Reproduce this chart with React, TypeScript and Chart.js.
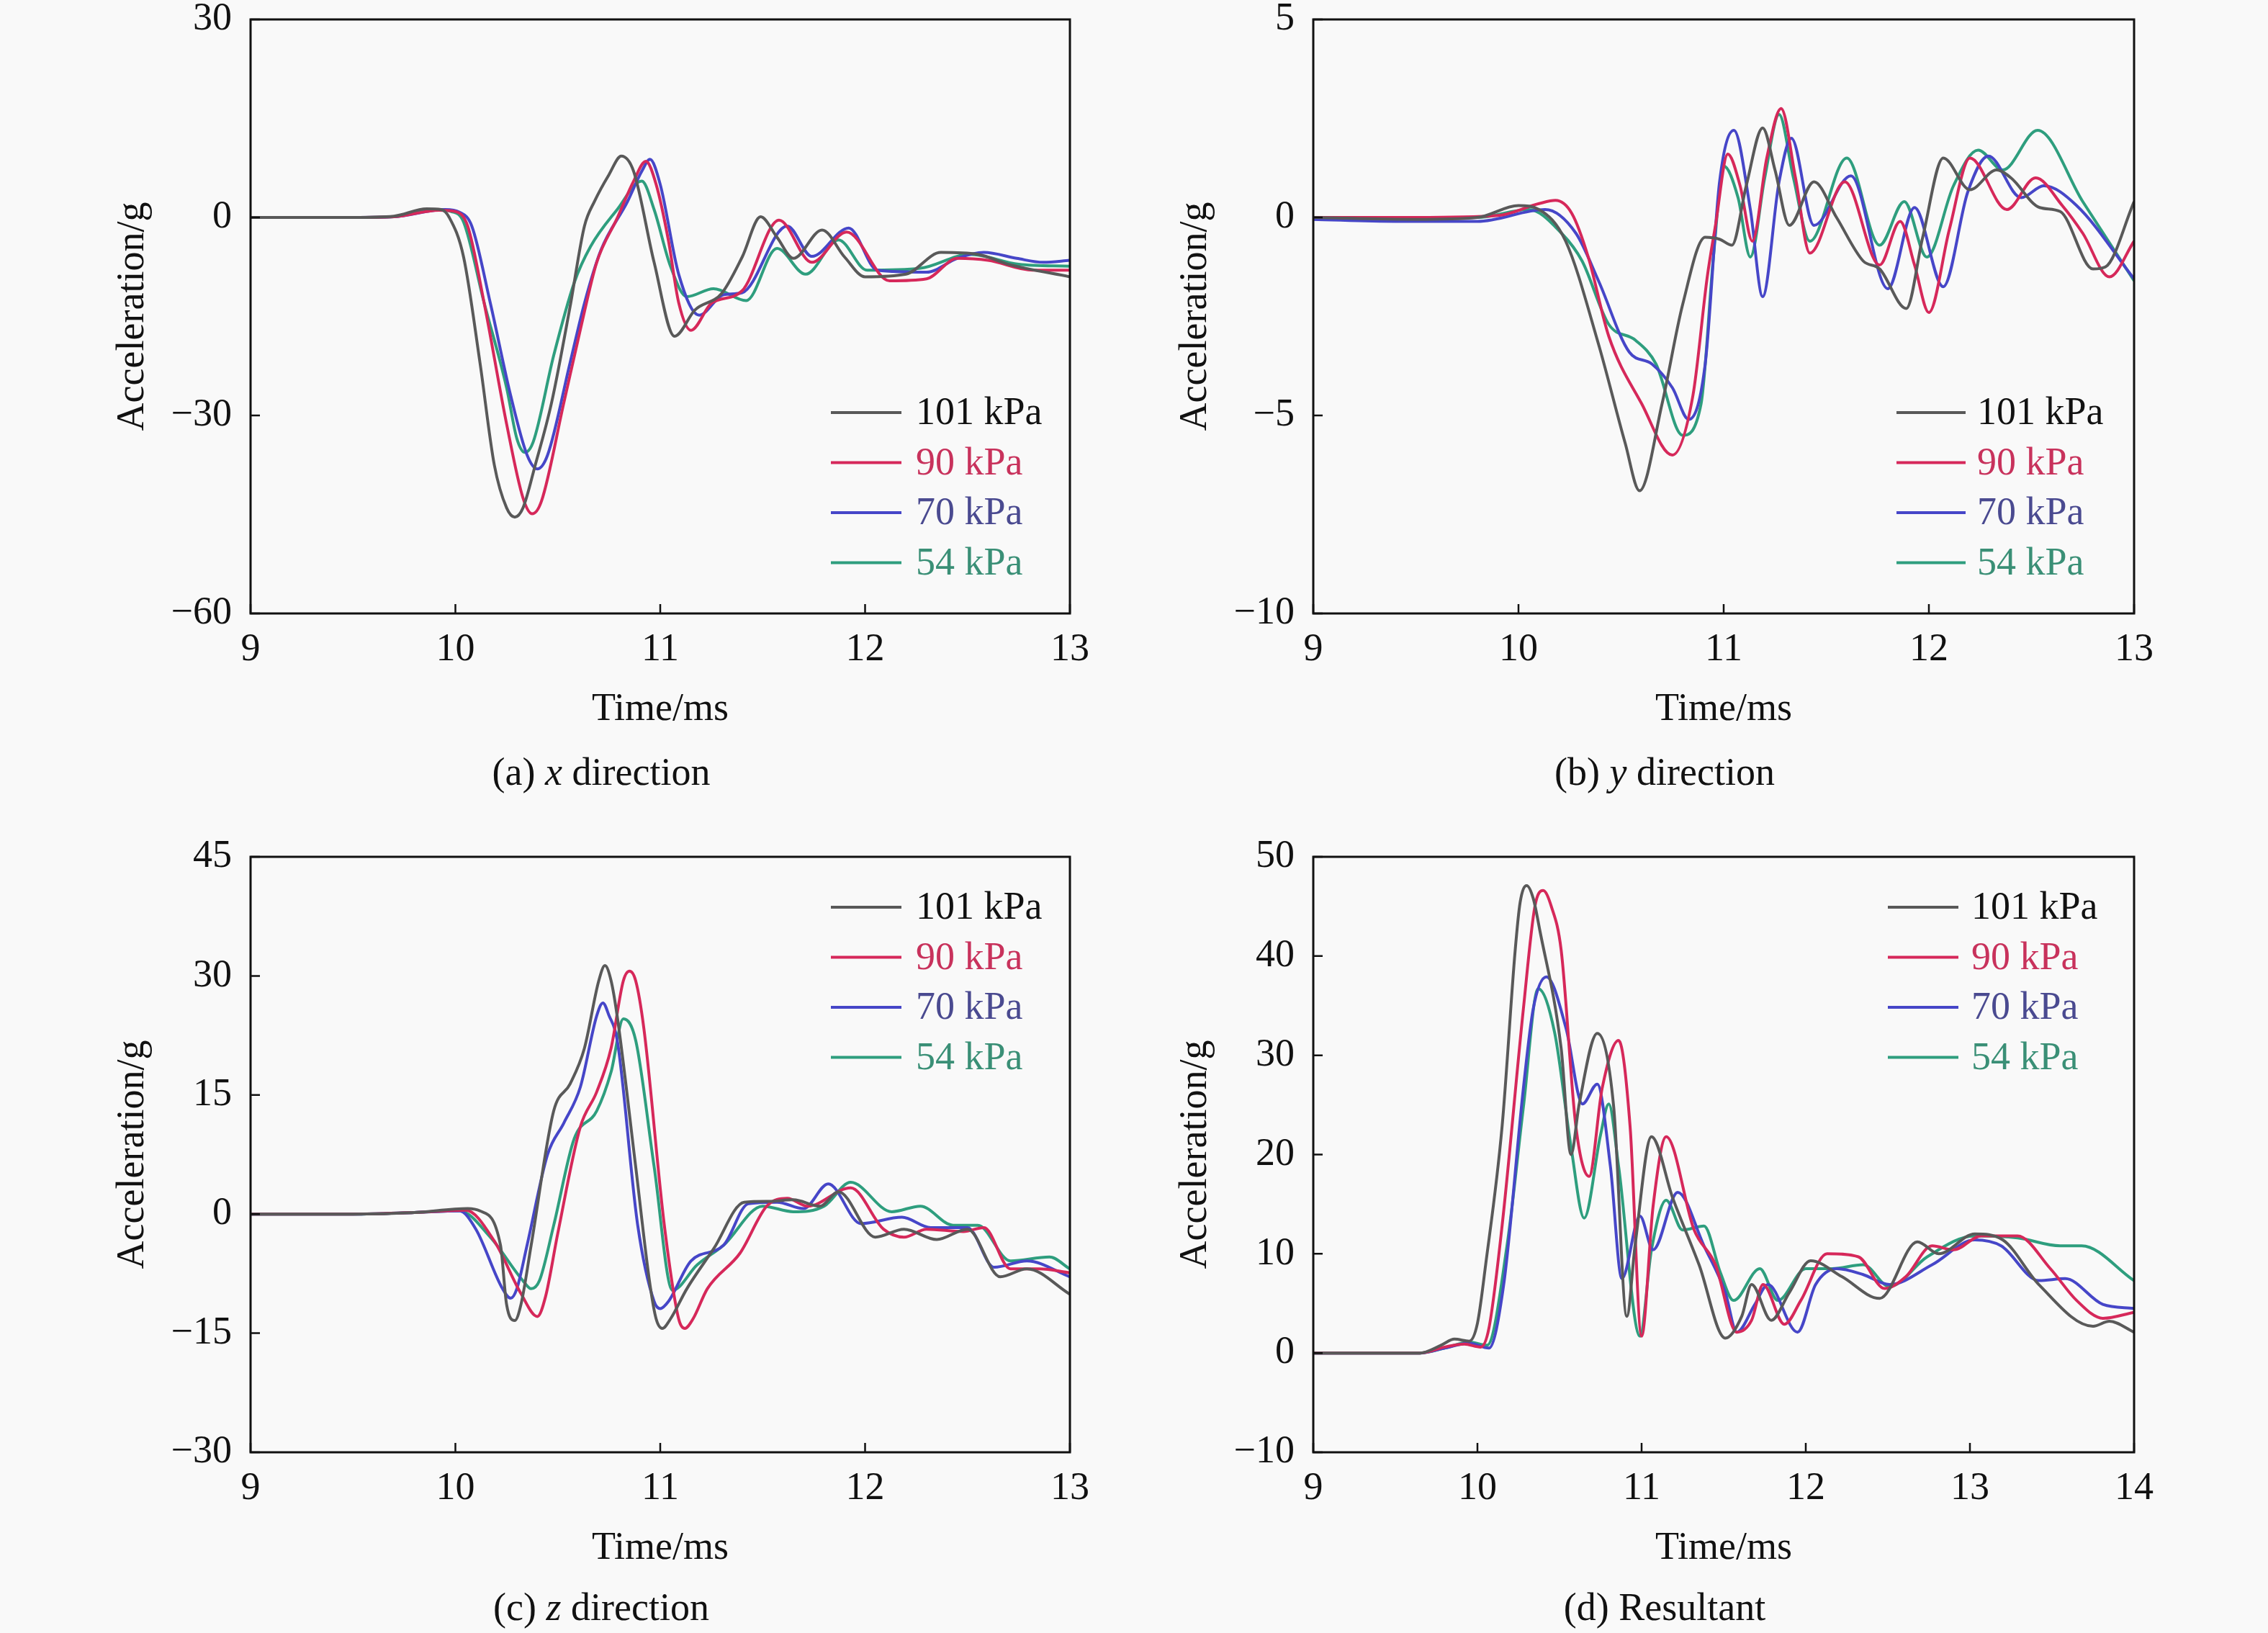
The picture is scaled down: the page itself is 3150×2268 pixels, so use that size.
import { useEffect, useRef, ReactNode } from 'react';
import { Chart, registerables } from 'chart.js';

Chart.register(...registerables);

const FONT = '"Liberation Serif", "Times New Roman", serif';
const FONT_SIZE = 54;

const pressures = ['101 kPa', '90 kPa', '70 kPa', '54 kPa'];
const lineColors = ['#595959', '#d6285a', '#4646c8', '#2e9e7e'];
const textColors = ['#111111', '#c8325c', '#4a4a90', '#3a8f76'];

// (a) x direction, [time ms, acceleration g]
const xDir101 = [[9, 0], [9.5, 0], [9.7, 0.2], [9.86, 1.3], [9.93, 1.2], [9.97, 0], [10.04, -6], [10.12, -22], [10.19, -37.5], [10.25, -44], [10.29, -45.4], [10.33, -44], [10.39, -37.5], [10.47, -28], [10.56, -13.5], [10.63, -1.3], [10.68, 2.5], [10.75, 6.5], [10.81, 9.3], [10.87, 7], [10.97, -6.8], [11.07, -18], [11.17, -14], [11.3, -11.5], [11.4, -6], [11.49, 0.1], [11.57, -3], [11.65, -6.2], [11.79, -1.9], [11.9, -6], [12.0, -9], [12.2, -8.6], [12.37, -5.3], [12.55, -5.6], [12.7, -7.1], [13, -9]];
const xDir90 = [[9, 0], [9.5, 0], [9.7, 0.1], [9.92, 1.1], [10.0, 0.9], [10.06, -1.3], [10.14, -12.9], [10.25, -31.3], [10.33, -42.5], [10.375, -44.9], [10.42, -43], [10.53, -28], [10.61, -17], [10.69, -6.8], [10.79, -0.1], [10.87, 5.5], [10.93, 8.5], [10.98, 5], [11.04, -3.5], [11.09, -12.9], [11.15, -17.1], [11.25, -13], [11.4, -11.1], [11.58, -0.4], [11.74, -6.8], [11.91, -2.2], [12.12, -9.6], [12.3, -9.3], [12.45, -6.2], [12.6, -6.5], [12.82, -8], [13, -8]];
const xDir70 = [[9, 0], [9.5, 0], [9.7, 0.1], [9.95, 1.2], [10.02, 0.8], [10.08, -1.3], [10.17, -12.9], [10.27, -27], [10.35, -36], [10.4, -38.1], [10.45, -36], [10.56, -22], [10.63, -13], [10.71, -5], [10.84, 2.4], [10.91, 7], [10.95, 8.8], [11.0, 5], [11.09, -8.6], [11.19, -14.8], [11.31, -11.7], [11.4, -11.4], [11.62, -1.3], [11.74, -5.9], [11.92, -1.6], [12.06, -8], [12.3, -8.3], [12.45, -6.2], [12.58, -5.3], [12.74, -6.2], [12.87, -6.8], [13, -6.5]];
const xDir54 = [[9, 0], [9.5, 0], [9.7, 0.1], [9.9, 1.2], [9.98, 0.9], [10.04, -0.7], [10.14, -12.9], [10.25, -25.8], [10.3, -33.5], [10.34, -35.6], [10.38, -34], [10.48, -20.9], [10.58, -9.9], [10.66, -4.4], [10.79, 1.2], [10.91, 5.5], [10.97, 1.2], [11.05, -7.4], [11.13, -12], [11.26, -10.8], [11.42, -12.6], [11.57, -4.7], [11.71, -8.6], [11.87, -3.4], [12.01, -8], [12.27, -7.7], [12.51, -5.6], [12.75, -7.1], [13, -7.4]];

// (b) y direction
const yDir101 = [[9, 0], [9.5, -0.05], [9.8, 0], [10.0, 0.3], [10.1, 0.2], [10.23, -0.6], [10.39, -3.2], [10.52, -5.7], [10.59, -6.9], [10.7, -4.7], [10.8, -2.2], [10.91, -0.5], [10.98, -0.55], [11.04, -0.7], [11.11, 0.8], [11.19, 2.26], [11.25, 1.2], [11.32, -0.2], [11.44, 0.9], [11.55, 0], [11.68, -1.1], [11.76, -1.3], [11.89, -2.3], [11.97, -0.5], [12.07, 1.5], [12.2, 0.7], [12.33, 1.2], [12.4, 1.0], [12.54, 0.25], [12.64, 0.15], [12.8, -1.3], [12.86, -1.25], [13, 0.4]];
const yDir90 = [[9, 0], [9.5, 0], [9.9, 0.05], [10.1, 0.35], [10.18, 0.43], [10.26, 0.1], [10.34, -1.0], [10.44, -3.0], [10.6, -4.7], [10.75, -6.0], [10.85, -4.5], [10.92, -1.5], [10.96, -0.2], [11.02, 1.6], [11.08, 0.8], [11.14, -0.6], [11.21, 1.5], [11.28, 2.75], [11.35, 1.0], [11.42, -0.9], [11.59, 0.9], [11.76, -1.2], [11.86, -0.1], [11.93, -1.2], [12.0, -2.4], [12.1, -0.3], [12.2, 1.5], [12.38, 0.2], [12.52, 1.0], [12.65, 0.3], [12.75, -0.4], [12.88, -1.5], [13, -0.6]];
const yDir70 = [[9, -0.05], [9.4, -0.1], [9.8, -0.1], [10.13, 0.2], [10.28, -0.4], [10.39, -1.6], [10.54, -3.4], [10.65, -3.7], [10.75, -4.3], [10.83, -5.1], [10.91, -3.7], [10.98, 0.9], [11.05, 2.2], [11.13, 0.2], [11.19, -2.0], [11.27, 0.9], [11.33, 2.0], [11.44, -0.2], [11.62, 1.05], [11.8, -1.8], [11.93, 0.25], [12.07, -1.75], [12.19, 0.65], [12.29, 1.55], [12.45, 0.5], [12.56, 0.8], [12.72, 0.3], [13, -1.55]];
const yDir54 = [[9, 0], [9.5, 0], [9.8, 0], [10.05, 0.2], [10.21, -0.4], [10.31, -1.1], [10.44, -2.7], [10.57, -3.1], [10.67, -3.7], [10.8, -5.5], [10.89, -4.7], [10.95, -1.0], [11.0, 1.3], [11.07, 0.5], [11.13, -1.0], [11.2, 1.0], [11.27, 2.6], [11.34, 1.0], [11.42, -0.6], [11.6, 1.5], [11.76, -0.7], [11.88, 0.4], [11.99, -1.0], [12.12, 0.8], [12.24, 1.7], [12.36, 1.2], [12.53, 2.2], [12.75, 0.4], [13, -1.6]];

// (c) z direction
const zDir101 = [[9, 0], [9.5, 0], [9.8, 0.2], [10.06, 0.7], [10.12, 0.4], [10.22, -3.9], [10.25, -11.4], [10.29, -13.4], [10.32, -11.4], [10.37, -3.9], [10.48, 13], [10.56, 16.4], [10.63, 20.9], [10.7, 29.4], [10.73, 31.3], [10.76, 29.4], [10.79, 24.9], [10.88, 6], [10.95, -8.9], [10.98, -13.2], [11.01, -14.4], [11.05, -13.2], [11.13, -9.4], [11.26, -4.4], [11.41, 1.5], [11.53, 1.6], [11.65, 1.8], [11.78, 1], [11.87, 2.8], [12.05, -2.9], [12.19, -1.9], [12.35, -3.2], [12.5, -1.9], [12.66, -7.9], [12.79, -6.9], [13, -10.1]];
const zDir90 = [[9, 0], [9.5, 0], [9.8, 0.2], [10.05, 0.5], [10.19, -3.4], [10.32, -10], [10.4, -12.9], [10.44, -10.4], [10.5, -2.4], [10.61, 11], [10.69, 15.4], [10.76, 20.9], [10.82, 29.4], [10.85, 30.6], [10.88, 29.4], [10.92, 23.4], [11.02, -1.4], [11.09, -13.2], [11.12, -14.4], [11.16, -13.2], [11.23, -9.4], [11.39, -4.9], [11.52, 1], [11.62, 2], [11.72, 1], [11.93, 3.3], [12.09, -1.9], [12.19, -2.9], [12.3, -1.9], [12.48, -2.2], [12.58, -1.7], [12.71, -6.9], [12.85, -6.9], [13, -7.4]];
const zDir70 = [[9, 0], [9.5, 0], [9.8, 0.2], [10.02, 0.4], [10.1, -1.9], [10.23, -9.4], [10.27, -10.6], [10.3, -9.4], [10.35, -3.9], [10.45, 7.5], [10.53, 11.5], [10.61, 16], [10.69, 25], [10.72, 26.6], [10.75, 25], [10.79, 21.9], [10.89, -1.4], [10.97, -11], [11.0, -11.9], [11.04, -11], [11.15, -5.9], [11.31, -3.9], [11.43, 1.3], [11.57, 1.5], [11.7, 0.7], [11.82, 3.8], [11.98, -1.2], [12.18, -0.4], [12.32, -1.7], [12.5, -1.7], [12.63, -6.7], [12.79, -5.9], [13, -7.9]];
const zDir54 = [[9, 0], [9.5, 0], [9.8, 0.2], [10.02, 0.4], [10.17, -2.9], [10.33, -8.4], [10.37, -9.4], [10.41, -8.4], [10.48, -1.4], [10.58, 9.5], [10.69, 13], [10.76, 17.9], [10.82, 24.6], [10.88, 21.9], [10.97, 6], [11.06, -9.6], [11.18, -6.4], [11.31, -3.9], [11.5, 1], [11.65, 0.3], [11.8, 1], [11.93, 4], [12.13, 0.3], [12.27, 1], [12.43, -1.4], [12.55, -1.4], [12.71, -5.9], [12.9, -5.4], [13, -6.9]];

// (d) resultant
const res101 = [[9, 0], [9.65, 0], [9.78, 0.8], [9.86, 1.4], [9.95, 1.2], [10.0, 3], [10.05, 8.9], [10.15, 22.8], [10.23, 40.6], [10.26, 45.4], [10.3, 47.1], [10.34, 45.8], [10.38, 42.6], [10.51, 30.7], [10.57, 20], [10.62, 25.1], [10.73, 32.2], [10.83, 24.8], [10.91, 3.7], [10.96, 10.8], [11.06, 21.8], [11.19, 15.6], [11.35, 8.9], [11.51, 1.5], [11.61, 3.7], [11.67, 6.9], [11.79, 3.3], [11.9, 6.1], [12.03, 9.3], [12.22, 7.7], [12.45, 5.5], [12.68, 11.2], [12.81, 10], [13.03, 12], [13.2, 11.4], [13.42, 6.9], [13.75, 2.7], [13.85, 3.2], [14, 2.1]];
const res90 = [[9, 0], [9.65, 0], [9.8, 0.6], [9.92, 0.9], [10.02, 0.6], [10.07, 2.5], [10.15, 12.8], [10.28, 34.7], [10.35, 45], [10.4, 46.6], [10.45, 45], [10.51, 40.6], [10.6, 22.8], [10.68, 17.8], [10.76, 26.7], [10.86, 31.5], [10.93, 22.8], [11.0, 1.7], [11.07, 14.8], [11.15, 21.8], [11.32, 12.4], [11.45, 8.9], [11.58, 2.1], [11.67, 3.3], [11.74, 6.9], [11.87, 2.9], [11.97, 5.3], [12.13, 10], [12.32, 9.7], [12.48, 6.5], [12.61, 7.7], [12.77, 10.8], [12.9, 10.4], [13.07, 11.8], [13.29, 11.8], [13.49, 8.5], [13.65, 5.3], [13.81, 3.5], [14, 4.1]];
const res70 = [[9, 0], [9.65, 0], [9.8, 0.5], [9.95, 1.0], [10.07, 0.5], [10.16, 6.9], [10.28, 26.7], [10.34, 34.7], [10.42, 37.9], [10.54, 32.7], [10.64, 25.1], [10.73, 27.1], [10.81, 18.8], [10.88, 7.5], [10.99, 13.8], [11.07, 10.4], [11.22, 16.2], [11.38, 10.8], [11.51, 6.1], [11.58, 2.1], [11.69, 4.9], [11.77, 6.9], [11.95, 2.1], [12.06, 6.9], [12.19, 8.5], [12.35, 7.9], [12.51, 6.9], [12.77, 8.9], [13.03, 11.4], [13.19, 10.8], [13.42, 7.3], [13.58, 7.5], [13.81, 4.9], [14, 4.5]];
const res54 = [[9, 0], [9.65, 0], [9.8, 0.5], [9.95, 1.1], [10.06, 0.8], [10.18, 10.8], [10.28, 24.8], [10.37, 36.7], [10.47, 32.3], [10.57, 20.8], [10.65, 13.6], [10.75, 22], [10.8, 25.1], [10.86, 18.8], [10.99, 1.7], [11.06, 10.4], [11.15, 15.4], [11.25, 12.4], [11.38, 12.8], [11.48, 8.1], [11.56, 5.3], [11.72, 8.5], [11.83, 5.3], [12.0, 8.5], [12.16, 8.5], [12.35, 8.9], [12.51, 6.7], [12.74, 9.7], [13.03, 11.8], [13.29, 11.6], [13.55, 10.8], [13.68, 10.8], [14, 7.3]];

interface PanelProps {
  box: { x: number; y: number; w: number; h: number };
  plot: { l: number; r: number; t: number; b: number };
  xMax: number;
  yMin: number;
  yMax: number;
  yStep: number;
  series: number[][][];
  legendTop: number;
  legendLine: [number, number];
  legendText: number;
  caption: ReactNode;
  captionY: number;
}

const minus = (v: number | string) => {
  const n = Number(v);
  return n < 0 ? '\u2212' + Math.abs(n) : String(n);
};

function Panel({ box, plot, xMax, yMin, yMax, yStep, series, legendTop, legendLine, legendText, caption, captionY }: PanelProps) {
  const canvasRef = useRef<HTMLCanvasElement>(null);

  useEffect(() => {
    if (!canvasRef.current) return;
    const lh = FONT_SIZE * 1.2;

    const framePlugin = {
      id: 'frameAndLegend',
      afterDraw(chart: Chart) {
        const { ctx, chartArea } = chart;
        const { left, right, top, bottom } = chartArea;
        const xs = chart.scales.x;
        const ys = chart.scales.y;
        ctx.save();
        ctx.strokeStyle = '#111111';
        ctx.lineWidth = 3;
        ctx.strokeRect(left, top, right - left, bottom - top);

        // inward tick marks
        ctx.lineWidth = 2.5;
        ctx.beginPath();
        xs.ticks.forEach((t) => {
          const px = xs.getPixelForValue(t.value);
          ctx.moveTo(px, bottom);
          ctx.lineTo(px, bottom - 13);
        });
        ys.ticks.forEach((t) => {
          const py = ys.getPixelForValue(t.value);
          ctx.moveTo(left, py);
          ctx.lineTo(left + 13, py);
        });
        ctx.stroke();

        // legend inside the plot
        ctx.font = `${FONT_SIZE}px ${FONT}`;
        ctx.textBaseline = 'middle';
        ctx.textAlign = 'left';
        pressures.forEach((label, i) => {
          const y = top + legendTop + i * 69.5;
          ctx.strokeStyle = lineColors[i];
          ctx.lineWidth = 4;
          ctx.beginPath();
          ctx.moveTo(right + legendLine[0], y);
          ctx.lineTo(right + legendLine[1], y);
          ctx.stroke();
          ctx.fillStyle = textColors[i];
          ctx.fillText(label, right + legendText, y + 2);
        });
        ctx.restore();
      },
    };

    const chart = new Chart(canvasRef.current, {
      type: 'line',
      data: {
        datasets: series.map((pts, i) => ({
          label: pressures[i],
          data: pts.map(([x, y]) => ({ x, y })),
          borderColor: lineColors[i],
          borderWidth: 4,
          pointRadius: 0,
          fill: false,
          cubicInterpolationMode: 'monotone' as const,
        })),
      },
      options: {
        animation: false,
        responsive: true,
        maintainAspectRatio: false,
        layout: {
          padding: { left: 0, top: plot.t - box.y, right: box.x + box.w - plot.r, bottom: 0 },
        },
        plugins: {
          legend: { display: false },
          tooltip: { enabled: false },
        },
        scales: {
          x: {
            type: 'linear',
            min: 9,
            max: xMax,
            grid: { display: false, drawTicks: false },
            border: { display: false },
            ticks: {
              stepSize: 1,
              autoSkip: false,
              maxRotation: 0,
              padding: 18,
              color: '#111111',
              font: { family: FONT, size: FONT_SIZE },
              callback: (v) => minus(v),
            },
            title: {
              display: true,
              text: 'Time/ms',
              color: '#111111',
              font: { family: FONT, size: FONT_SIZE },
              padding: { top: 0, bottom: box.y + box.h - (plot.b + 134) - lh / 2 },
            },
            afterFit: (scale) => {
              scale.height = box.y + box.h - plot.b;
              scale.paddingLeft = 0;
              scale.paddingRight = 0;
            },
          },
          y: {
            type: 'linear',
            min: yMin,
            max: yMax,
            grid: { display: false, drawTicks: false },
            border: { display: false },
            ticks: {
              stepSize: yStep,
              autoSkip: false,
              padding: 26,
              color: '#111111',
              font: { family: FONT, size: FONT_SIZE },
              callback: (v) => minus(v),
            },
            title: {
              display: true,
              text: 'Acceleration/g',
              color: '#111111',
              font: { family: FONT, size: FONT_SIZE },
              padding: { top: plot.l - 163 - box.x - lh / 2, bottom: 0 },
            },
            afterFit: (scale) => {
              scale.width = plot.l - box.x;
              scale.paddingTop = 0;
              scale.paddingBottom = 0;
            },
          },
        },
      },
      plugins: [framePlugin],
    });

    return () => {
      chart.destroy();
    };
  }, []);

  const capCenter = (plot.l + plot.r) / 2 - 82;

  return (
    <>
      <div style={{ position: 'absolute', left: box.x, top: box.y, width: box.w, height: box.h }}>
        <canvas ref={canvasRef}></canvas>
      </div>
      <div
        style={{
          position: 'absolute',
          left: capCenter - 500,
          width: 1000,
          top: captionY - FONT_SIZE * 0.6,
          lineHeight: `${FONT_SIZE * 1.2}px`,
          fontSize: FONT_SIZE,
          fontFamily: FONT,
          color: '#111111',
          textAlign: 'center',
        }}
      >
        {caption}
      </div>
    </>
  );
}

export default function App() {
  return (
    <div style={{ position: 'absolute', left: 0, top: 0, width: 3150, height: 2268, background: '#f9f9f9', overflow: 'hidden' }}>
      <Panel
        box={{ x: 0, y: 0, w: 1575, h: 1040 }}
        plot={{ l: 348, r: 1486, t: 27, b: 852 }}
        xMax={13}
        yMin={-60}
        yMax={30}
        yStep={30}
        series={[xDir101, xDir90, xDir70, xDir54]}
        legendTop={546}
        legendLine={[-332, -234]}
        legendText={-214}
        caption={<>(a) <i>x</i> direction</>}
        captionY={1072}
      />
      <Panel
        box={{ x: 1575, y: 0, w: 1575, h: 1040 }}
        plot={{ l: 1824, r: 2964, t: 27, b: 852 }}
        xMax={13}
        yMin={-10}
        yMax={5}
        yStep={5}
        series={[yDir101, yDir90, yDir70, yDir54]}
        legendTop={546}
        legendLine={[-330, -234]}
        legendText={-218}
        caption={<>(b) <i>y</i> direction</>}
        captionY={1072}
      />
      <Panel
        box={{ x: 0, y: 1134, w: 1575, h: 1040 }}
        plot={{ l: 348, r: 1486, t: 1190, b: 2017 }}
        xMax={13}
        yMin={-30}
        yMax={45}
        yStep={15}
        series={[zDir101, zDir90, zDir70, zDir54]}
        legendTop={70}
        legendLine={[-332, -234]}
        legendText={-214}
        caption={<>(c) <i>z</i> direction</>}
        captionY={2232}
      />
      <Panel
        box={{ x: 1575, y: 1134, w: 1575, h: 1040 }}
        plot={{ l: 1824, r: 2964, t: 1190, b: 2017 }}
        xMax={14}
        yMin={-10}
        yMax={50}
        yStep={10}
        series={[res101, res90, res70, res54]}
        legendTop={70}
        legendLine={[-342, -244]}
        legendText={-226}
        caption={<>(d) Resultant</>}
        captionY={2232}
      />
    </div>
  );
}
